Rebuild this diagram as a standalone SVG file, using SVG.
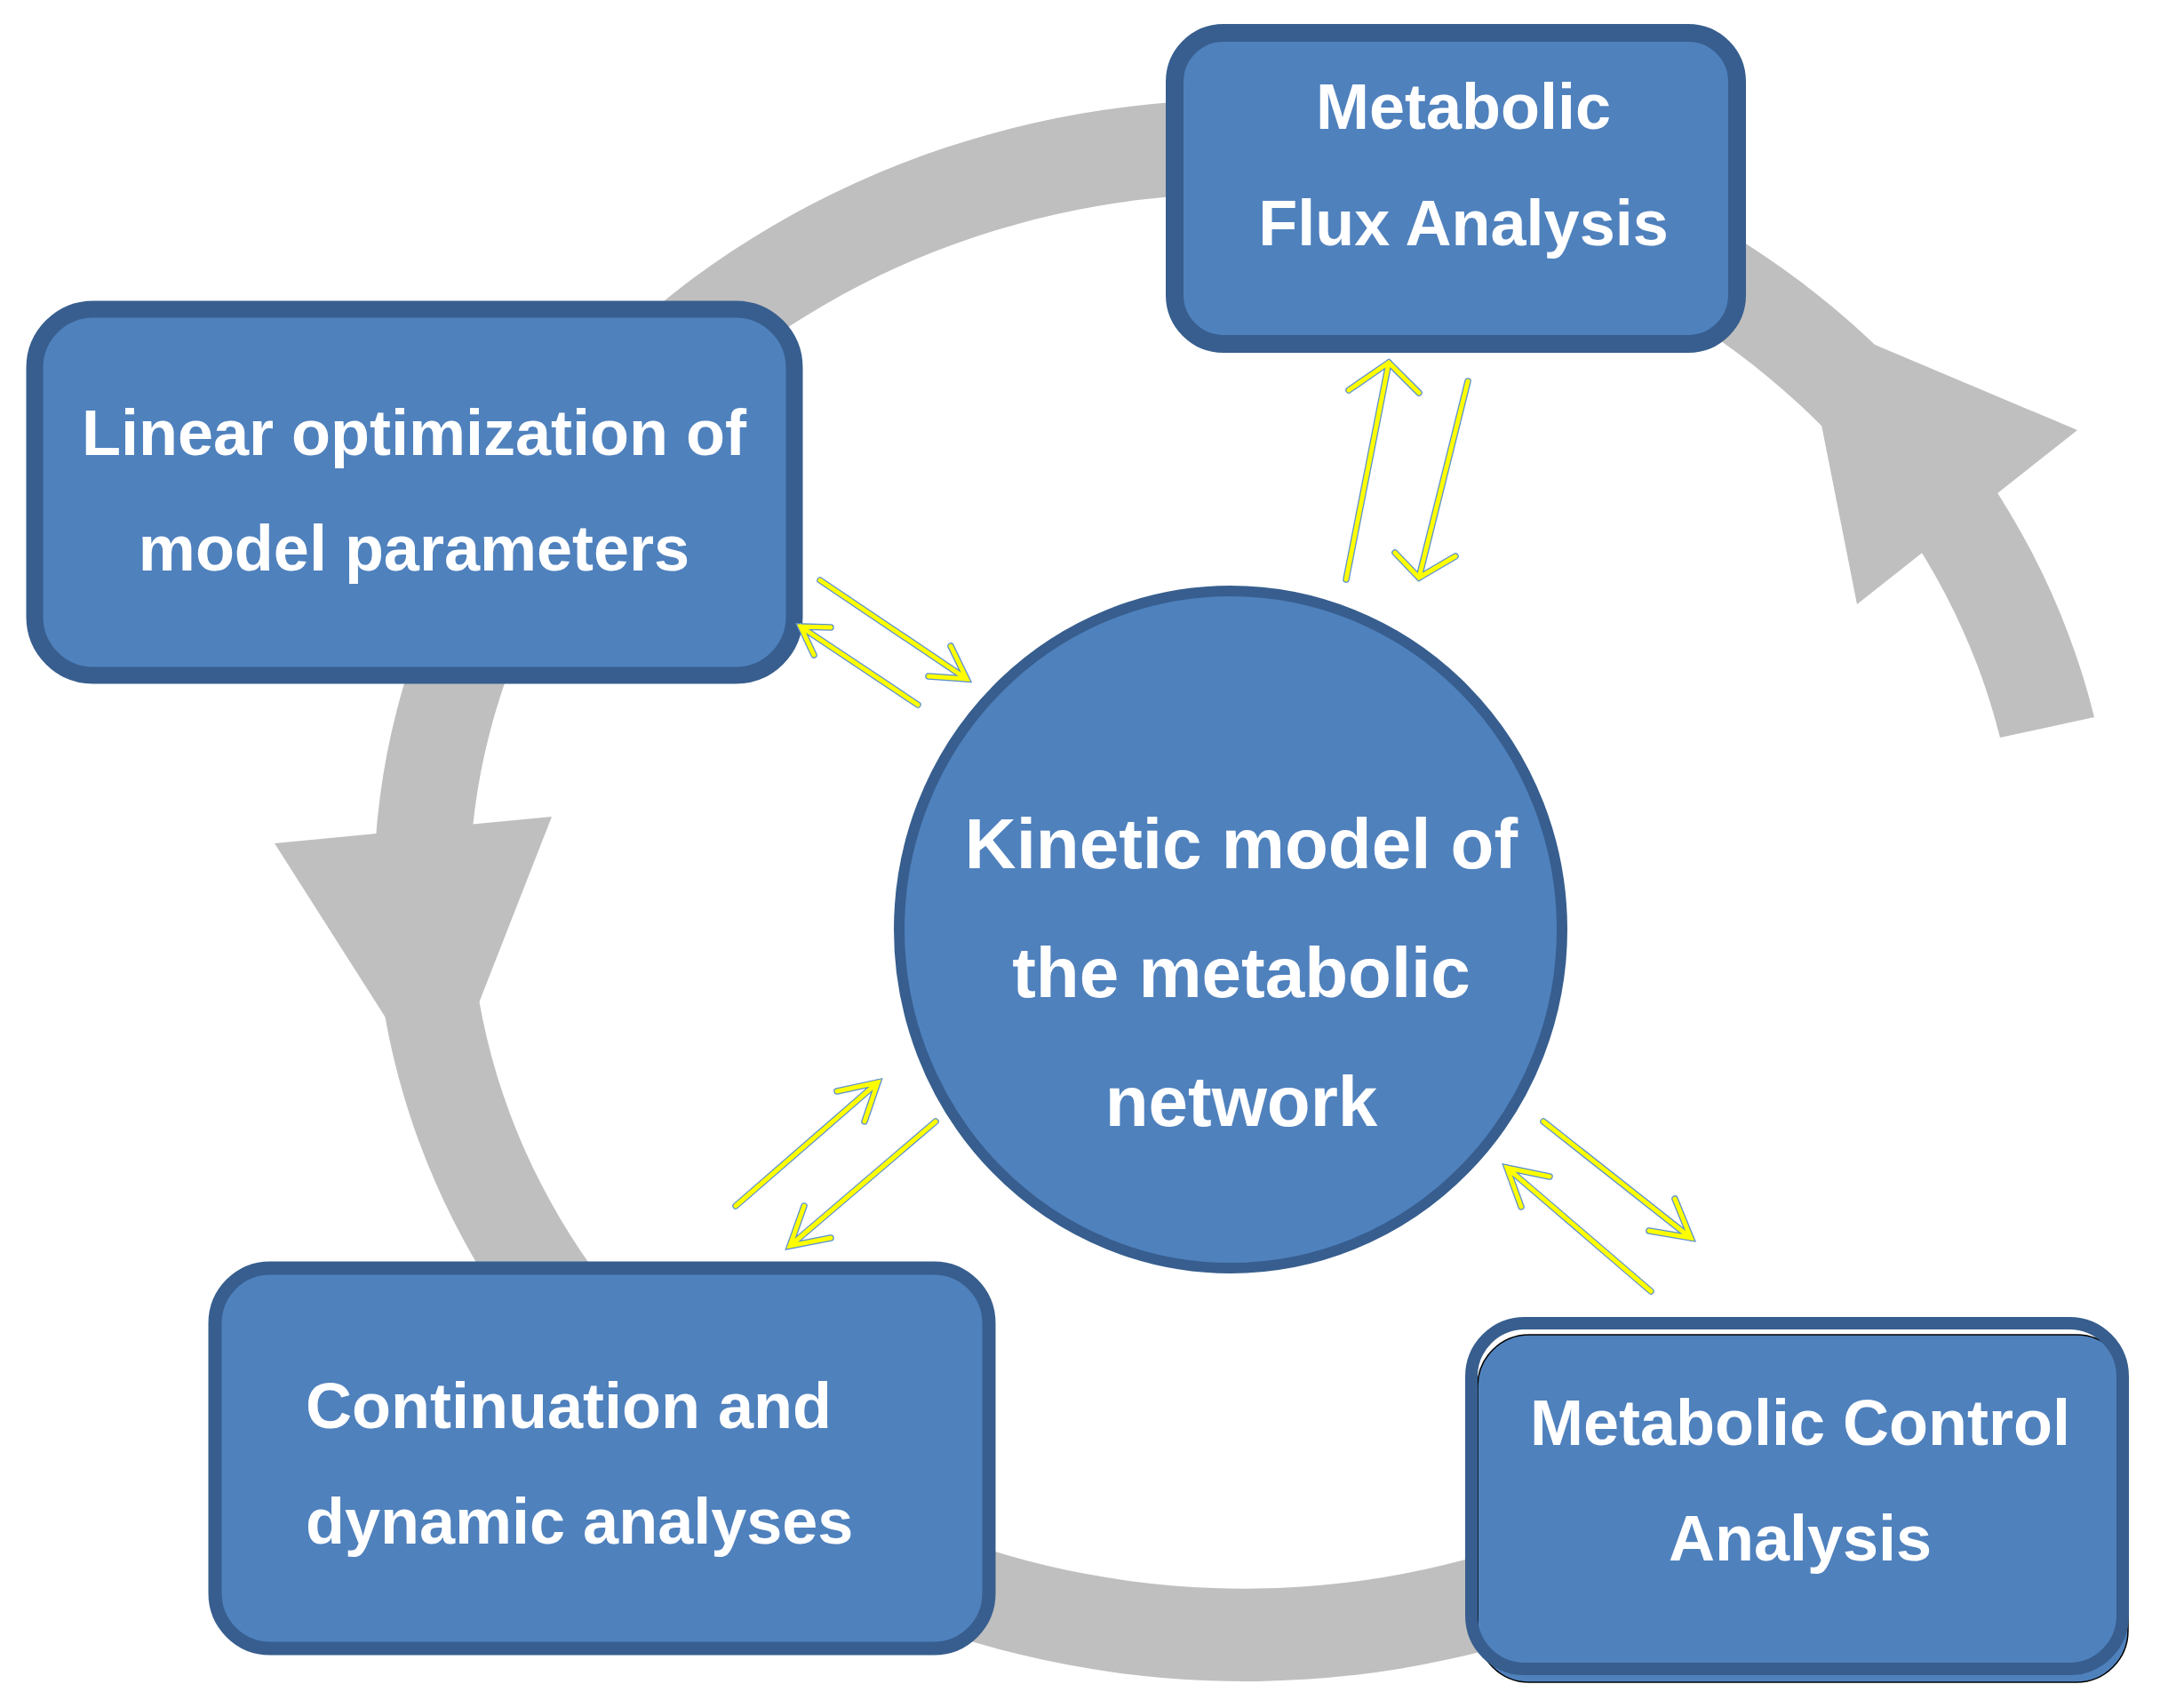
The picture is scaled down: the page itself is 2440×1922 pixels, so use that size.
<svg xmlns="http://www.w3.org/2000/svg" width="2440" height="1922" viewBox="0 0 2440 1922">
<style>
.box{fill:#4F81BD;stroke:#375E8E}
.t{font-family:"Liberation Sans",Arial,sans-serif;font-weight:bold;fill:#FFFFFF;font-size:72px}
.tc{font-family:"Liberation Sans",Arial,sans-serif;font-weight:bold;fill:#FFFFFF;font-size:80px}
.ring{fill:#BFBFBF;stroke:none}
.ao{fill:none;stroke:#5B8FD0;stroke-width:7.5;stroke-linecap:round;stroke-linejoin:miter}
.ai{fill:none;stroke:#FFFF00;stroke-width:5;stroke-linecap:round;stroke-linejoin:miter}
</style>
<rect width="2440" height="1922" fill="#FFFFFF"/>
<g id="cycle">
<path class="ring" d="M 2093,1632 A 980 890 0 1 1 2357,807 L 2251,830 A 872 785 0 1 0 2016.6,1558.1 Z"/>
<polygon class="ring" points="2025,352 2338,484 2090,680"/>
<polygon class="ring" points="309,949 621,919 495,1241"/>
</g>
<g id="mfa">
<rect class="box" x="1322" y="37" width="633" height="350" rx="55" stroke-width="20"/>
<text class="t" x="1647" y="145" text-anchor="middle">Metabolic</text>
<text class="t" x="1647" y="276" text-anchor="middle">Flux Analysis</text>
</g>
<g id="linear">
<rect class="box" x="39" y="348" width="855" height="412" rx="66" stroke-width="19"/>
<text class="t" x="466" y="512" text-anchor="middle">Linear optimization of</text>
<text class="t" x="466" y="642" text-anchor="middle">model parameters</text>
</g>
<g id="continuation">
<rect class="box" x="242" y="1427" width="871" height="428" rx="62" stroke-width="15"/>
<text class="t" x="344" y="1607">Continuation and</text>
<text class="t" x="344" y="1737">dynamic analyses</text>
</g>
<g id="mca">
<rect x="1663" y="1502" width="732" height="391" rx="58" fill="#4F81BD" stroke="#000000" stroke-width="1.5"/>
<rect x="1656" y="1489" width="733" height="389" rx="60" fill="none" stroke="#375E8E" stroke-width="14"/>
<text class="t" x="2026" y="1626" text-anchor="middle">Metabolic Control</text>
<text class="t" x="2026" y="1756" text-anchor="middle">Analysis</text>
</g>
<g id="kinetic">
<ellipse class="box" cx="1385" cy="1046" rx="373" ry="381" stroke-width="12"/>
<text class="tc" x="1397" y="977" text-anchor="middle">Kinetic model of</text>
<text class="tc" x="1397" y="1122" text-anchor="middle">the metabolic</text>
<text class="tc" x="1397" y="1267" text-anchor="middle">network</text>
</g>
<g id="connectors">
<g class="ao">
<path d="M1515,652 L1563,408 M1518,439 L1563,408 L1597,442"/>
<path d="M1652,429 L1597,650 M1570,622 L1597,650 L1638,626"/>
<path d="M923,653 L1088,764 M1070,727 L1088,764 L1045,761"/>
<path d="M1033,793 L901,705 M935,706 L901,705 L916,737"/>
<path d="M828,1357 L988,1218 M942,1228 L988,1218 L973,1262"/>
<path d="M1053,1262 L889,1402 M905,1357 L889,1402 L935,1393"/>
<path d="M1737,1262 L1903,1393 M1885,1349 L1903,1393 L1856,1385"/>
<path d="M1858,1453 L1696,1314 M1744,1324 L1696,1314 L1712,1358"/>
</g>
<g class="ai">
<path d="M1515,652 L1563,408 M1518,439 L1563,408 L1597,442"/>
<path d="M1652,429 L1597,650 M1570,622 L1597,650 L1638,626"/>
<path d="M923,653 L1088,764 M1070,727 L1088,764 L1045,761"/>
<path d="M1033,793 L901,705 M935,706 L901,705 L916,737"/>
<path d="M828,1357 L988,1218 M942,1228 L988,1218 L973,1262"/>
<path d="M1053,1262 L889,1402 M905,1357 L889,1402 L935,1393"/>
<path d="M1737,1262 L1903,1393 M1885,1349 L1903,1393 L1856,1385"/>
<path d="M1858,1453 L1696,1314 M1744,1324 L1696,1314 L1712,1358"/>
</g>
</g>
</svg>
